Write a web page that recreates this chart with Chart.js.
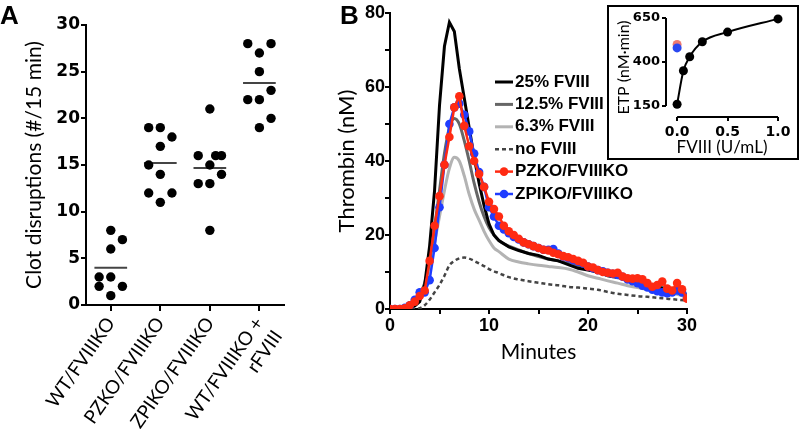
<!DOCTYPE html>
<html>
<head>
<meta charset="utf-8">
<script src="https://cdn.jsdelivr.net/npm/chart.js@4.4.1/dist/chart.umd.min.js"></script>
<style>
  body { margin: 0; background: #fff; }
  #wrap { position: relative; width: 800px; height: 440px; overflow: hidden; }
  .panel { position: absolute; top: 0; }
  .tag { position: absolute; font: bold 26px "Liberation Sans", Arial, sans-serif; color: #000; }
  #inset { position: absolute; left: 607px; top: 5px; width: 188px; height: 151px; border: 2px solid #000; background: #fff; }
</style>
</head>
<body>
<div id="wrap">
  <div class="panel" style="left:0"><canvas id="chartA" width="300" height="440"></canvas></div>
  <div class="panel" style="left:320px"><canvas id="chartB" width="480" height="440"></canvas></div>
  <div id="inset"><canvas id="chartC" width="188" height="151"></canvas></div>
  <div class="tag" style="left:0;top:0">A</div>
  <div class="tag" style="left:340px;top:0">B</div>
</div>
<script>
// ---- panel A: clot disruptions per mouse ----
const groupLabels = [['WT/FVIIIKO'], ['PZKO/FVIIIKO'], ['ZPIKO/FVIIIKO'], ['WT/FVIIIKO +', 'rFVIII']];
const wtKo = [8, 7, 6, 3, 3, 2, 2, 1];
const wtKoLane = [0, 1, 0, -1, 0, -1, 1, 0];
const pzKo = [19, 19, 18, 17, 15, 14, 12, 12, 11];
const pzKoLane = [-1, 0, 1, 0, -1, 0, -1, 1, 0];
const zpiKo = [21, 16, 16, 16, 15, 14, 13, 13, 8];
const zpiKoLane = [0, -1, 0.5, 1, 0, 1, -1, 0, 0];
const wtKoRf = [28, 28, 27, 25, 23, 22, 22, 20, 19];
const wtKoRfLane = [-1, 1, 0, 0, 1, -1, 0, 1, 0];
const clotTicks = [0, 5, 10, 15, 20, 25, 30];

// ---- panel B: thrombin generation ----
const timeFine = [0, 0.5, 1, 1.5, 2, 2.5, 3, 3.5, 4, 4.5, 5, 5.5, 6, 6.5, 7, 7.5, 8, 8.5, 9, 9.5,
  10, 10.5, 11, 11.5, 12, 12.5, 13, 13.5, 14, 14.5, 15, 15.5, 16, 16.5, 17, 17.5, 18, 18.5, 19, 19.5,
  20, 20.5, 21, 21.5, 22, 22.5, 23, 23.5, 24, 24.5, 25, 25.5, 26, 26.5, 27, 27.5, 28, 28.5, 29, 29.5, 30];
const pzkoThrombin = [0, 0, 0, 0.2, 1, 2, 3.5, 5, 13, 22.5, 30.5, 39, 46.5, 54.5, 57.5, 49.5, 44, 40, 36.5, 33,
  29, 27, 25, 22.5, 21, 20, 19, 18, 17.5, 17, 16.5, 16, 15.8, 15.2, 14.8, 14.3, 14, 13.5, 13, 12.5,
  11.5, 11.2, 10.5, 10, 9.8, 9.6, 9.8, 8.8, 8.3, 8.2, 8.3, 8, 7, 6, 6.5, 7.4, 5.5, 5, 7, 5.3, 2.8];
const zpikoThrombin = [0, 0, 0, 0.3, 1, 2.5, 4.5, 4.5, 7.8, 16.5, 27.5, 39, 50, 54.5, 55.5, 52.5, 48, 42, 37, 33,
  27.5, 25, 22.5, 21.5, 20.5, 19.5, 18.8, 18, 17.5, 17, 16.5, 16, 16, 16.2, 15, 14.2, 13.8, 13.2, 12.8, 12.3,
  11.5, 11, 10.5, 10.2, 9.8, 9.5, 9.2, 8.7, 8, 7.5, 7, 6.3, 5.8, 5.2, 4.8, 4.5, 4.3, 4.5, 5, 4.5, 3];

const timeCoarse = [0, 1, 2, 2.5, 3, 3.5, 4, 4.5, 5, 5.5, 6, 6.5, 7, 7.5, 8, 8.5, 9, 9.5, 10, 10.5,
  11, 12, 13, 14, 15, 16, 17, 18, 19, 20, 21, 22, 23, 24, 25, 26, 27, 28, 29, 30];
const fviii25 = [0, 0, 0.3, 0.8, 2, 6.5, 17, 32, 55, 71, 77.5, 75, 65, 57, 49, 41, 34, 28, 23, 20,
  18.5, 16.8, 15.8, 15, 14.5, 13.5, 13, 12, 11, 10.5, 10, 9, 8.5, 8, 7, 6.5, 6, 5, 4.5, 3.5];
const fviii125 = [0, 0, 0.5, 1.5, 4, 7, 13, 22, 32, 42, 49, 51.5, 50, 45.5, 40, 34, 29, 25, 22, 20,
  18.5, 17, 16, 15, 14.2, 13.5, 13, 12.3, 11.5, 10.8, 10, 9.3, 8.7, 8, 7.3, 6.8, 6.2, 5.5, 4.8, 4];
const fviii63 = [0, 0, 0.5, 1.5, 3.5, 6.5, 11, 18, 25, 32, 38, 41, 40, 36, 31, 27, 24, 21, 18.5, 16.5,
  15.5, 13.5, 12.7, 12.2, 11.8, 11.5, 11.2, 10.8, 10, 9, 8.3, 7.6, 7, 6.3, 5.8, 5.3, 5, 4.5, 4, 3.2];
const fviii0 = [0, 0, 0, 0, 0.2, 1, 2.5, 4.5, 6.5, 9, 11.8, 13, 13.7, 13.9, 13.6, 13, 12.3, 11.6, 10.8, 10.2,
  9.7, 8.6, 8, 7.5, 7.1, 6.7, 6.4, 6, 5.8, 5.5, 5.2, 4.6, 4.1, 3.8, 3.5, 3.3, 3, 2.8, 2.5, 2.3];

// ---- inset: ETP vs FVIII dose ----
const fviiiDose = [0, 0.0625, 0.125, 0.25, 0.5, 1.0];
const etp = [160, 350, 430, 515, 570, 645];
const pzkoEtp = 500;
const zpikoEtp = 480;

Chart.defaults.color = '#000';
Chart.defaults.animation = false;
Chart.defaults.events = [];
Chart.defaults.plugins.legend.display = false;
Chart.defaults.plugins.tooltip.enabled = false;

const sans = '"Liberation Sans", Arial, sans-serif';
const lato = 'Lato, "Open Sans", sans-serif';
const dejavu = '"DejaVu Sans", sans-serif';

const pairs = (xs, ys) => ys.map((y, i) => ({ x: xs[i], y: y }));
const mean = arr => arr.reduce((a, b) => a + b, 0) / arr.length;

// Panel A
const groups = [[wtKo, wtKoLane], [pzKo, pzKoLane], [zpiKo, zpiKoLane], [wtKoRf, wtKoRfLane]];
const dotSets = groups.map(([vals, lanes], g) => ({
  data: vals.map((v, i) => ({ x: g + 1 + lanes[i] * 0.235, y: v })),
  backgroundColor: '#000',
  borderWidth: 0,
  pointRadius: 4.7
}));
const meanSets = groups.map(([vals], g) => ({
  type: 'line',
  showLine: true,
  data: [{ x: g + 1 - 0.33, y: mean(vals) }, { x: g + 1 + 0.33, y: mean(vals) }],
  borderColor: '#444',
  borderWidth: 2,
  pointRadius: 0
}));

new Chart(document.getElementById('chartA'), {
  type: 'scatter',
  data: { datasets: [...dotSets, ...meanSets] },
  options: {
    responsive: false,
    layout: { padding: { top: 25, right: 10, left: 0, bottom: 0 } },
    scales: {
      x: {
        type: 'linear', min: 0.5, max: 4.5,
        afterBuildTicks: s => { s.ticks = [1, 2, 3, 4].map(v => ({ value: v })); },
        afterFit: s => { s.height = 135; },
        border: { color: '#000', width: 2 },
        grid: { drawOnChartArea: false, color: '#000', lineWidth: 2, tickLength: 6 },
        ticks: {
          autoSkip: false, minRotation: 55, maxRotation: 55, padding: 2,
          font: { family: lato, size: 19 },
          callback: v => groupLabels[v - 1]
        }
      },
      y: {
        min: 0, max: 30,
        afterBuildTicks: s => { s.ticks = clotTicks.map(v => ({ value: v })); },
        afterFit: s => { s.width = 86; },
        border: { color: '#000', width: 2 },
        grid: { drawOnChartArea: false, color: '#000', lineWidth: 2, tickLength: 5 },
        ticks: { padding: 1, font: { family: dejavu, size: 17, weight: 'bold' } },
        title: { display: true, text: 'Clot disruptions (#/15 min)', padding: { top: 22, bottom: 0 },
          font: { family: lato, size: 21 } }
      }
    }
  }
});

// Panel B
const legendLines = {
  id: 'legendLines',
  afterDraw(chart) {
    const ctx = chart.ctx;
    ctx.save();
    ctx.font = 'bold 17px ' + sans;
    ctx.textBaseline = 'middle';
    chart.data.datasets.forEach((ds, i) => {
      const y = 82 + i * 22.4;
      ctx.strokeStyle = ds.borderColor;
      ctx.lineWidth = ds.borderWidth;
      ctx.setLineDash(ds.borderDash || []);
      ctx.beginPath();
      ctx.moveTo(175, y);
      ctx.lineTo(193, y);
      ctx.stroke();
      ctx.setLineDash([]);
      if (ds.pointRadius > 0) {
        ctx.fillStyle = ds.borderColor;
        ctx.beginPath();
        ctx.arc(184, y, ds.pointRadius, 0, Math.PI * 2);
        ctx.fill();
      }
      ctx.fillStyle = '#000';
      ctx.fillText(ds.label, 195, y);
    });
    ctx.restore();
  }
};

const smooth = { cubicInterpolationMode: 'monotone', pointRadius: 0, borderWidth: 3 };
new Chart(document.getElementById('chartB'), {
  type: 'line',
  data: {
    datasets: [
      { label: '25% FVIII', data: pairs(timeCoarse, fviii25), borderColor: '#000', order: 2, pointRadius: 0, borderWidth: 3, tension: 0 },
      { label: '12.5% FVIII', data: pairs(timeCoarse, fviii125), borderColor: '#666', order: 3, ...smooth },
      { label: '6.3% FVIII', data: pairs(timeCoarse, fviii63), borderColor: '#b3b3b3', order: 4, ...smooth },
      { label: 'no FVIII', data: pairs(timeCoarse, fviii0), borderColor: '#444', borderDash: [4, 3], order: 5, ...smooth, borderWidth: 2.5 },
      { label: 'PZKO/FVIIIKO', data: pairs(timeFine, pzkoThrombin), borderColor: '#ff2a12', backgroundColor: '#ff2a12',
        borderWidth: 2.5, pointRadius: 4.3, pointBorderWidth: 0, order: 0 },
      { label: 'ZPIKO/FVIIIKO', data: pairs(timeFine, zpikoThrombin), borderColor: '#1f3cff', backgroundColor: '#1f3cff',
        borderWidth: 2.5, pointRadius: 4.3, pointBorderWidth: 0, order: 1 }
    ]
  },
  options: {
    responsive: false,
    layout: { padding: { top: 13, right: 113, left: 0, bottom: 0 } },
    scales: {
      x: {
        type: 'linear', min: 0, max: 30,
        afterFit: s => { s.height = 131; },
        border: { color: '#000', width: 2 },
        grid: { drawOnChartArea: false, color: '#000', lineWidth: 2, tickLength: 5 },
        ticks: { stepSize: 5, padding: 1, maxRotation: 0,
          font: { family: sans, size: 18, weight: 'bold' },
          callback: v => (v % 10 === 0 ? v : '') },
        title: { display: true, text: 'Minutes', padding: { top: 0, bottom: 75 }, font: { family: lato, size: 21 } }
      },
      y: {
        min: 0, max: 80,
        afterFit: s => { s.width = 70; },
        border: { color: '#000', width: 2 },
        grid: { drawOnChartArea: false, color: '#000', lineWidth: 2, tickLength: 5 },
        ticks: { stepSize: 10, padding: 0,
          font: { family: sans, size: 18, weight: 'bold' },
          callback: v => (v % 20 === 0 ? v : '') },
        title: { display: true, text: 'Thrombin (nM)', padding: { top: 14, bottom: 0 }, font: { family: lato, size: 22 } }
      }
    }
  },
  plugins: [legendLines]
});

// Inset
const offsetAxes = {
  id: 'offsetAxes',
  afterDraw(chart) {
    const { ctx, chartArea, scales } = chart;
    ctx.save();
    ctx.strokeStyle = '#000';
    ctx.lineWidth = 2;
    ctx.beginPath();
    ctx.moveTo(chartArea.left, scales.y.getPixelForValue(150));
    ctx.lineTo(chartArea.left, scales.y.getPixelForValue(650));
    ctx.moveTo(scales.x.getPixelForValue(0), chartArea.bottom);
    ctx.lineTo(scales.x.getPixelForValue(1), chartArea.bottom);
    ctx.stroke();
    ctx.restore();
  }
};

new Chart(document.getElementById('chartC'), {
  type: 'scatter',
  data: {
    datasets: [
      { data: [{ x: 0, y: zpikoEtp }], backgroundColor: '#2a48f0', pointRadius: 4.5, borderWidth: 0, clip: false },
      { data: [{ x: 0, y: pzkoEtp }], backgroundColor: '#f07a70', pointRadius: 4.5, borderWidth: 0, clip: false },
      { data: pairs(fviiiDose, etp), showLine: true, cubicInterpolationMode: 'monotone', borderColor: '#000',
        backgroundColor: '#000', borderWidth: 2, pointRadius: 4.5, pointBorderWidth: 0, clip: false }
    ]
  },
  options: {
    responsive: false,
    layout: { padding: { top: 11, right: 19, left: 0, bottom: 0 } },
    scales: {
      x: {
        type: 'linear', min: -0.11, max: 1,
        afterBuildTicks: s => { s.ticks = [0, 0.5, 1].map(v => ({ value: v })); },
        afterFit: s => { s.height = 41; },
        border: { display: false },
        grid: { drawOnChartArea: false, color: '#000', lineWidth: 2, tickLength: 4 },
        ticks: { padding: 3, maxRotation: 0, font: { family: dejavu, size: 14, weight: 'bold' },
          callback: v => v.toFixed(1) },
        title: { display: true, text: 'FVIII (U/mL)', padding: { top: 0, bottom: 0 }, font: { family: lato, size: 17 } }
      },
      y: {
        min: 87.5, max: 650,
        afterBuildTicks: s => { s.ticks = [150, 400, 650].map(v => ({ value: v })); },
        afterFit: s => { s.width = 57; },
        border: { display: false },
        grid: { drawOnChartArea: false, color: '#000', lineWidth: 2, tickLength: 4 },
        ticks: { padding: 2, font: { family: dejavu, size: 13, weight: 'bold' } },
        title: { display: true, text: 'ETP (nM·min)', padding: { top: 5, bottom: 0 }, font: { family: lato, size: 16 } }
      }
    }
  },
  plugins: [offsetAxes]
});
</script>
</body>
</html>
